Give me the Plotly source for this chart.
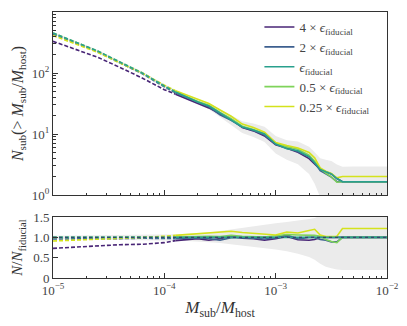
import numpy as np
import plotly.graph_objects as go

# ---------------------------------------------------------------------------
# Data: cumulative subhalo counts and ratios
# ---------------------------------------------------------------------------

log_mass = [-5.0, -4.8, -4.6, -4.4, -4.2, -4.0, -3.9, -3.8, -3.7, -3.6,
            -3.5, -3.4, -3.3, -3.2, -3.1, -3.0, -2.9, -2.8, -2.7, -2.65,
            -2.6, -2.55, -2.5, -2.45, -2.4, -2.3, -2.2, -2.1, -2.0]

# fiducial N_sub(> M_sub/M_host)
n_fiducial = [453, 322, 230, 151, 100, 61.2, 48.9, 40.5, 33.5, 28.8,
              22.1, 17.0, 13.0, 11.6, 10.0, 6.85, 5.75, 5.32, 4.25, 3.39,
              2.63, 2.40, 2.21, 1.86, 1.65, 1.65, 1.65, 1.65, 1.65]

# N / N_fiducial for each softening length
ratio_4x = [0.73, 0.76, 0.79, 0.82, 0.83, 0.87, 0.92, 0.94, 0.97, 0.93,
            0.97, 1.03, 0.98, 0.97, 0.93, 0.97, 1.02, 0.94, 0.93, 0.95,
            1.0, 1.0, 1.0, 1.0, 1.0, 1.0, 1.0, 1.0, 1.0]
ratio_2x = [0.96, 0.96, 0.97, 0.97, 0.98, 0.97, 0.97, 0.98, 0.99, 0.97,
            0.93, 0.99, 1.0, 0.98, 0.96, 0.99, 1.06, 0.96, 1.0, 1.0,
            0.95, 0.93, 0.89, 0.89, 1.0, 1.0, 1.0, 1.0, 1.0]
ratio_1x = [1.0] * len(log_mass)
ratio_05x = [1.0, 1.0, 1.0, 1.0, 1.01, 1.0, 1.01, 1.02, 1.02, 1.03,
             1.02, 1.05, 1.03, 1.02, 1.01, 1.04, 1.07, 1.06, 1.06, 1.05,
             1.03, 0.95, 0.9, 0.87, 1.0, 1.0, 1.0, 1.0, 1.0]
ratio_025x = [0.91, 0.93, 0.95, 0.97, 1.0, 1.03, 1.05, 1.07, 1.09, 1.1,
              1.12, 1.15, 1.12, 1.1, 1.07, 1.06, 1.13, 1.11, 1.17, 1.2,
              1.06, 1.02, 1.02, 1.03, 1.22, 1.22, 1.22, 1.22, 1.22]

# scatter band around the fiducial run (as ratio)
band_lo = [0.96, 0.955, 0.95, 0.945, 0.94, 0.93, 0.92, 0.91, 0.9, 0.88,
           0.86, 0.83, 0.8, 0.77, 0.74, 0.7, 0.66, 0.6, 0.52, 0.45,
           0.35, 0.28, 0.24, 0.21, 0.2, 0.2, 0.2, 0.2, 0.2]
band_hi = [1.04, 1.045, 1.05, 1.055, 1.06, 1.07, 1.08, 1.09, 1.1, 1.12,
           1.16, 1.2, 1.24, 1.28, 1.32, 1.35, 1.38, 1.41, 1.45, 1.48,
           1.52, 1.58, 1.64, 1.7, 1.76, 1.77, 1.77, 1.77, 1.77]

labels = ["4 × <i>ϵ</i><sub>fiducial</sub>", "2 × <i>ϵ</i><sub>fiducial</sub>",
          "<i>ϵ</i><sub>fiducial</sub>", "0.5 × <i>ϵ</i><sub>fiducial</sub>",
          "0.25 × <i>ϵ</i><sub>fiducial</sub>"]
ratios = [ratio_4x, ratio_2x, ratio_1x, ratio_05x, ratio_025x]
colors = ["#482576", "#3d5f8f", "#29a08d", "#7fd35a", "#d4e21c"]

resolved_from = -3.9  # below this the curves are drawn dashed

# ---------------------------------------------------------------------------

mass = 10 ** np.array(log_mass)
n_fid = np.array(n_fiducial)
lo = np.array(band_lo)
hi = np.array(band_hi)
dashed = np.array(log_mass) <= resolved_from + 1e-9
solid = np.array(log_mass) >= resolved_from - 1e-9

fig = go.Figure()

# grey bands
for xa, ya, base in [("x", "y", n_fid), ("x2", "y2", np.ones_like(n_fid))]:
    fig.add_trace(go.Scatter(x=mass, y=base * hi, xaxis=xa, yaxis=ya, mode="lines",
                             line=dict(width=0), showlegend=False, hoverinfo="skip"))
    fig.add_trace(go.Scatter(x=mass, y=np.maximum(base * lo, 0.5 if ya == "y" else 0),
                             xaxis=xa, yaxis=ya, mode="lines", line=dict(width=0),
                             fill="tonexty", fillcolor="#ebebeb", showlegend=False,
                             hoverinfo="skip"))

order = [0, 1, 3, 4, 2]
for i in order:
    r = np.array(ratios[i])
    n = n_fid * r
    for xa, ya, vals in [("x", "y", n), ("x2", "y2", r)]:
        fig.add_trace(go.Scatter(x=mass[dashed], y=vals[dashed], xaxis=xa, yaxis=ya,
                                 mode="lines",
                                 line=dict(color=colors[i], width=1.6, dash="4px,2px"),
                                 showlegend=False))
        fig.add_trace(go.Scatter(x=mass[solid], y=vals[solid], xaxis=xa, yaxis=ya,
                                 mode="lines", line=dict(color=colors[i], width=1.6),
                                 name=labels[i], legendrank=i + 1,
                                 showlegend=(ya == "y")))

# reference line at unity
fig.add_trace(go.Scatter(x=[mass[0], mass[-1]], y=[1, 1], xaxis="x2", yaxis="y2",
                         mode="lines", line=dict(color="#34466f", width=1.2, dash="dot"),
                         showlegend=False))

font = "Liberation Serif"
axis_common = dict(showline=True, linecolor="#333", linewidth=1, mirror=True,
                   ticks="inside", ticklen=5, tickcolor="#333", showgrid=False,
                   zeroline=False, automargin=False,
                   tickfont=dict(family=font, size=13, color="#444"))

decades_x = [1e-5, 1e-4, 1e-3, 1e-2]
minor_x = [m * d for d in decades_x[:-1] for m in range(2, 10)]
xticktext = ["10<sup>−5</sup>", "10<sup>−4</sup>", "10<sup>−3</sup>", "10<sup>−2</sup>"]

decades_y = [1, 10, 100, 1000]
minor_y = [m * d for d in decades_y[:-1] for m in range(2, 10)]

# the page body adds an 8 px margin, so the figure is sized to fit inside it
fig.update_layout(
    width=399, height=318,
    margin=dict(l=45, r=20, t=4, b=48),
    paper_bgcolor="white", plot_bgcolor="white",
    font=dict(family=font, color="#333"),
    xaxis=dict(type="log", range=[-5, -2], domain=[0, 1], anchor="y",
               tickvals=decades_x, showticklabels=False,
               minor=dict(ticks="inside", ticklen=2.5, tickcolor="#333", tickvals=minor_x),
               **axis_common),
    yaxis=dict(type="log", range=[0, 3], domain=[0.312, 1], anchor="x",
               tickvals=decades_y,
               ticktext=["10<sup>0</sup>", "10<sup>1</sup>", "10<sup>2</sup>", "10<sup>3</sup>"],
               minor=dict(ticks="inside", ticklen=2.5, tickcolor="#333", tickvals=minor_y),
               title=dict(text="<i>N</i><sub>sub</sub>(&gt; <i>M</i><sub>sub</sub>/<i>M</i><sub>host</sub>)",
                          font=dict(family=font, size=16, color="#333"), standoff=4),
               **axis_common),
    xaxis2=dict(type="log", range=[-5, -2], domain=[0, 1], anchor="y2",
                tickvals=decades_x, ticktext=xticktext,
                minor=dict(ticks="inside", ticklen=2.5, tickcolor="#333", tickvals=minor_x),
                title=dict(text="<i>M</i><sub>sub</sub>/<i>M</i><sub>host</sub>",
                           font=dict(family=font, size=17, color="#333"), standoff=4),
                **axis_common),
    yaxis2=dict(range=[0, 1.5], domain=[0, 0.229], anchor="x2",
                tickvals=[0, 0.5, 1, 1.5], ticktext=["0", "0.5", "1.0", "1.5"],
                title=dict(text="<i>N</i>/<i>N</i><sub>fiducial</sub>",
                           font=dict(family=font, size=15, color="#333"), standoff=6),
                **axis_common),
    legend=dict(x=0.618, y=1.0, xanchor="left", yanchor="top", traceorder="normal",
                bgcolor="rgba(0,0,0,0)", font=dict(family=font, size=13, color="#444"),
                tracegroupgap=0),
)

fig.write_html("out.html")
